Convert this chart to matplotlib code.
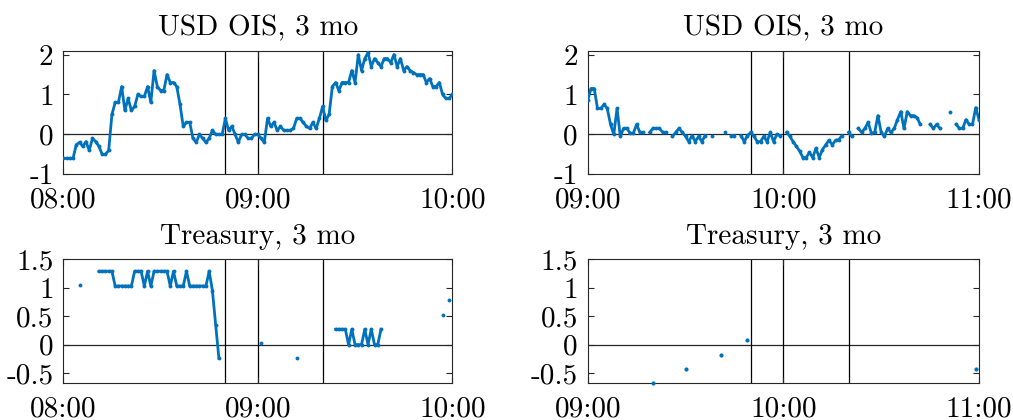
import numpy as np
import matplotlib
matplotlib.use("Agg")
import matplotlib.pyplot as plt

nan = np.nan

# ---------------- data ----------------
titles = ["USD OIS, 3 mo", "USD OIS, 3 mo", "Treasury, 3 mo", "Treasury, 3 mo"]

left_start = "08:00"
right_start = "09:00"
xtick_labels_left = ["08:00", "09:00", "10:00"]
xtick_labels_right = ["09:00", "10:00", "11:00"]
events_left = ["08:50", "09:00", "09:20"]
events_right = ["09:50", "10:00", "10:20"]

ytick_top = [-1, 0, 1, 2]
ytick_top_labels = ["-1", "0", "1", "2"]
ytick_bot = [-0.5, 0, 0.5, 1, 1.5]
ytick_bot_labels = ["-0.5", "0", "0.5", "1", "1.5"]

# one value per minute, 08:00 .. 10:00
ois_left = [-0.6, -0.6, -0.6, -0.6, -0.26, -0.2, -0.3, -0.18, -0.4, -0.1,
            -0.18, -0.3, -0.5, -0.5, -0.4, 0.5, 0.8, 0.8, 1.2, 0.6,
            0.9, 0.6, 0.7, 1.0, 0.95, 0.95, 1.2, 0.8, 1.6, 1.2,
            1.1, 1.1, 1.5, 1.3, 1.3, 1.2, 0.75, 0.2, 0.3, 0.3,
            -0.1, -0.2, 0.0, -0.1, -0.2, -0.1, 0.1, 0.0, 0.0, 0.0,
            0.4, 0.1, 0.2, 0.0, -0.2, 0.0, 0.0, -0.1, -0.1, 0.0,
            0.0, -0.1, -0.2, 0.4, 0.2, 0.3, 0.1, 0.2, 0.1, 0.1,
            0.1, 0.15, 0.4, 0.4, 0.3, 0.2, 0.15, 0.3, 0.15, 0.4,
            0.7, 0.35, 0.5, 1.2, 1.3, 1.1, 1.3, 1.3, 1.3, 1.6,
            1.3, 2.0, 1.6, 1.9, 2.05, 1.7, 1.9, 1.8, 1.7, 1.9,
            1.9, 1.8, 2.0, 1.7, 1.9, 1.6, 1.7, 1.6, 1.55, 1.5,
            1.5, 1.5, 1.3, 1.4, 1.2, 1.2, 1.3, 1.0, 0.9, 0.9,
            1.0]

# one value per minute, 09:00 .. 11:00
ois_right = [0.85, 1.15, 1.15, 0.65, 0.65, 0.75, 0.65, 0.25, 0.0, 0.65,
             -0.05, 0.15, 0.15, 0.03, 0.03, 0.25, 0.05, 0.05, nan, 0.05,
             0.15, 0.15, 0.15, 0.05, 0.05, nan, -0.05, 0.05, 0.15, 0.05,
             -0.05, -0.18, -0.03, -0.18, -0.05, -0.18, -0.03, nan, -0.03, nan,
             nan, nan, 0.05, nan, -0.03, -0.03, nan, -0.03, -0.18, -0.03,
             0.05, -0.05, -0.18, -0.18, -0.05, -0.18, 0.05, -0.18, 0.0, -0.03,
             nan, 0.05, -0.05, -0.18, -0.3, -0.42, -0.58, -0.58, -0.45, -0.58,
             -0.35, -0.58, -0.38, -0.26, -0.15, -0.26, -0.15, -0.13, -0.03, nan,
             0.05, -0.05, nan, 0.15, 0.05, 0.15, 0.3, 0.03, 0.05, 0.47,
             0.05, -0.05, 0.15, 0.05, 0.15, 0.37, 0.57, 0.15, 0.57, 0.47,
             0.47, 0.42, 0.25, nan, nan, 0.25, 0.15, 0.25, 0.15, nan,
             nan, 0.55, nan, 0.25, 0.15, 0.15, 0.37, 0.25, 0.25, 0.67,
             0.37]

# one value per minute, 08:00 .. 10:00
tsy_left = [nan, nan, nan, nan, nan, 1.04, nan, nan, nan, nan,
            nan, 1.29, 1.29, 1.29, 1.29, 1.29, 1.03, 1.03, 1.03, 1.03,
            1.03, 1.03, 1.29, 1.29, 1.29, 1.03, 1.29, 1.03, 1.29, 1.29,
            1.29, 1.29, 1.29, 1.03, 1.29, 1.03, 1.03, 1.03, 1.29, 1.03,
            1.03, 1.03, 1.03, 1.03, 1.03, 1.29, 0.95, 0.35, -0.24, nan,
            nan, nan, nan, nan, nan, nan, nan, nan, nan, nan,
            nan, 0.02, nan, nan, nan, nan, nan, nan, nan, nan,
            nan, nan, -0.24, nan, nan, nan, nan, nan, nan, nan,
            nan, nan, nan, nan, 0.27, 0.27, 0.27, 0.27, 0.0, 0.27,
            0.0, 0.0, 0.0, 0.27, 0.0, 0.27, 0.0, 0.0, 0.27, nan,
            nan, nan, nan, nan, nan, nan, nan, nan, nan, nan,
            nan, nan, nan, nan, nan, nan, nan, 0.52, nan, 0.78,
            nan]

# sparse observations, 09:00 .. 11:00
tsy_right_times = ["09:20", "09:30", "09:41", "09:49", "10:59"]
tsy_right_vals = [-0.675, -0.435, -0.18, 0.08, -0.435]

# ---------------- style ----------------
plt.rcParams["font.family"] = "serif"
plt.rcParams["font.serif"] = ["cmr10", "DejaVu Serif"]
plt.rcParams["mathtext.fontset"] = "cm"
plt.rcParams["axes.unicode_minus"] = False

BLUE = "#0072BD"
AXC = "#262626"
FS_TICK = 21
FS_TITLE = 21


def to_min(s, start):
    h, m = map(int, s.split(":"))
    h0, m0 = map(int, start.split(":"))
    return (h * 60 + m) - (h0 * 60 + m0)


fig = plt.figure(figsize=(10.13, 4.2), dpi=100)
W, H = 1013.0, 420.0
positions = [
    (63.3, 51.0, 452.3, 174.3),
    (587.7, 51.0, 979.0, 174.3),
    (63.3, 259.3, 452.3, 383.3),
    (587.7, 259.3, 979.0, 383.3),
]
axes = []
for (x0, y0, x1, y1) in positions:
    axes.append(fig.add_axes([x0 / W, 1 - y1 / H, (x1 - x0) / W, (y1 - y0) / H]))

series = [
    (np.arange(len(ois_left)), np.array(ois_left, float)),
    (np.arange(len(ois_right)), np.array(ois_right, float)),
    (np.arange(len(tsy_left)), np.array(tsy_left, float)),
    (np.array([to_min(t, right_start) for t in tsy_right_times]), np.array(tsy_right_vals)),
]

for i, ax in enumerate(axes):
    left = i % 2 == 0
    top = i < 2
    start = left_start if left else right_start
    xl = xtick_labels_left if left else xtick_labels_right
    ev = events_left if left else events_right
    x, y = series[i]

    ax.axhline(0, color=AXC, lw=0.9, zorder=1)
    for e in ev:
        ax.axvline(to_min(e, start), color="black", lw=0.9, zorder=1)

    if i == 3:
        ax.plot(x, y, linestyle="none", marker="o", ms=3.0, mew=0, color=BLUE,
                zorder=3, clip_on=False)
    else:
        ax.plot(x, y, "-", lw=2.0, color=BLUE, marker="o", ms=2.8, mew=0,
                zorder=3)

    ax.set_xlim(0, 120)
    ax.set_xticks([to_min(t, start) for t in xl])
    ax.set_xticklabels(xl)
    if top:
        ax.set_ylim(-1, 2.09)
        ax.set_yticks(ytick_top)
        ax.set_yticklabels(ytick_top_labels)
    else:
        ax.set_ylim(-0.68, 1.5)
        ax.set_yticks(ytick_bot)
        ax.set_yticklabels(ytick_bot_labels)

    ax.set_title(titles[i], fontsize=FS_TITLE, pad=11)
    ax.tick_params(direction="in", top=True, right=True, length=4, width=0.8,
                   color=AXC, labelsize=FS_TICK, labelcolor="black")
    ax.tick_params(axis="x", pad=9)
    ax.tick_params(axis="y", pad=7)
    for sp in ax.spines.values():
        sp.set_color(AXC)
        sp.set_linewidth(0.8)

fig.savefig("out.png", dpi=100)
